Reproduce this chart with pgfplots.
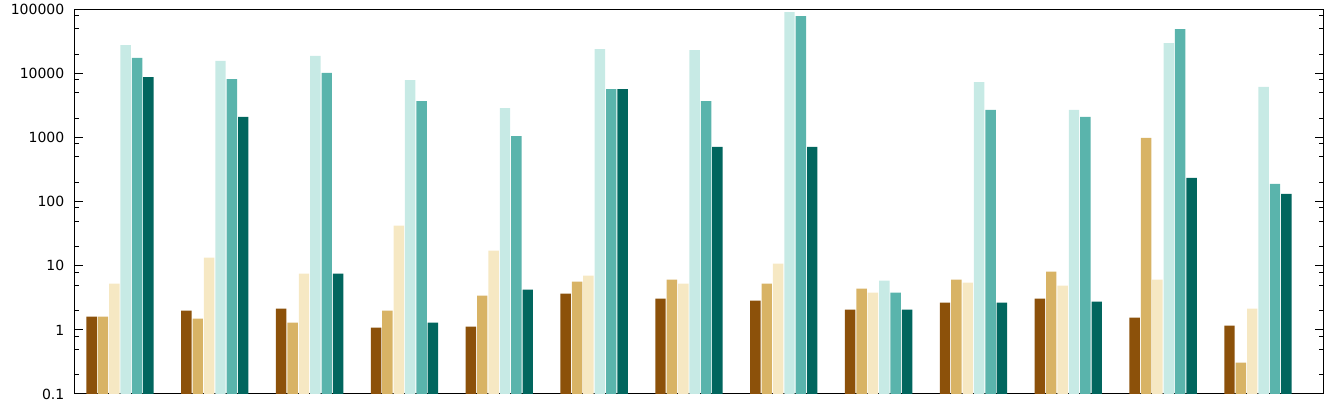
\documentclass[border=0pt]{standalone}
\usepackage{pgfplots}
\pgfplotsset{compat=1.18}
\usepackage{fontspec}
\setmainfont{DejaVu Sans}
\definecolor{c1}{HTML}{8C510A}
\definecolor{c2}{HTML}{D8B365}
\definecolor{c3}{HTML}{F6E8C3}
\definecolor{c4}{HTML}{C7EAE5}
\definecolor{c5}{HTML}{5AB4AC}
\definecolor{c6}{HTML}{01665E}
\begin{document}
\begin{tikzpicture}
\begin{axis}[
  at={(0,0)}, anchor=south west,
  scale only axis, width=936pt, height=288.4pt,
  xmin=-0.4745, xmax=12.686,
  ymode=log, ymin=0.1, ymax=100000, log origin=infty,
  xtick=\empty,
  ytick={0.1,1,10,100,1000,10000,100000},
  yticklabels={0.1,1,10,100,1000,10000,100000},
  minor ytick={0.2,0.5,0.8,2,5,8,20,50,80,200,500,800,2000,5000,8000,20000,50000,80000},
  tick align=inside,
  major tick length=6pt, minor tick length=3pt,
  every tick/.style={black, line width=0.75pt},
  axis line style={black, line width=0.75pt},
  ymajorgrids=false,
  yticklabel style={font=\fontsize{10.5}{12}\selectfont, xshift=-4.5pt},
  /pgf/number format/assume math mode=true,
  clip=false,
]
\addplot[ybar, bar width=0.11, bar shift=-0.30, fill=c1, draw=none] coordinates {
(0,1.61) (1,2.0) (2,2.15) (3,1.09) (4,1.13) (5,3.68) (6,3.07) (7,2.86) (8,2.07) (9,2.66) (10,3.07) (11,1.56) (12,1.17)};
\addplot[ybar, bar width=0.11, bar shift=-0.18, fill=c2, draw=none] coordinates {
(0,1.61) (1,1.50) (2,1.30) (3,2.0) (4,3.43) (5,5.66) (6,6.08) (7,5.27) (8,4.40) (9,6.08) (10,8.10) (11,990) (12,0.31)};
\addplot[ybar, bar width=0.11, bar shift=-0.06, fill=c3, draw=none] coordinates {
(0,5.27) (1,13.4) (2,7.55) (3,42.2) (4,17.2) (5,7.02) (6,5.27) (7,10.8) (8,3.82) (9,5.46) (10,4.91) (11,6.08) (12,2.15)};
\addplot[ybar, bar width=0.11, bar shift=0.06, fill=c4, draw=none] coordinates {
(0,27800) (1,15700) (2,18800) (3,7930) (4,2900) (5,24100) (6,23200) (7,90800) (8,5.87) (9,7380) (10,2700) (11,29900) (12,6170)};
\addplot[ybar, bar width=0.11, bar shift=0.18, fill=c5, draw=none] coordinates {
(0,17500) (1,8220) (2,10200) (3,3730) (4,1060) (5,5740) (6,3730) (7,78700) (8,3.82) (9,2700) (10,2100) (11,49400) (12,190)};
\addplot[ybar, bar width=0.11, bar shift=0.30, fill=c6, draw=none] coordinates {
(0,8830) (1,2100) (2,7.55) (3,1.30) (4,4.25) (5,5740) (6,717) (7,717) (8,2.07) (9,2.66) (10,2.76) (11,236) (12,133)};
\end{axis}
\pgfresetboundingbox
\path[use as bounding box] (-56.25pt,-6.75pt) rectangle (945pt,295.5pt);
\end{tikzpicture}
\end{document}
